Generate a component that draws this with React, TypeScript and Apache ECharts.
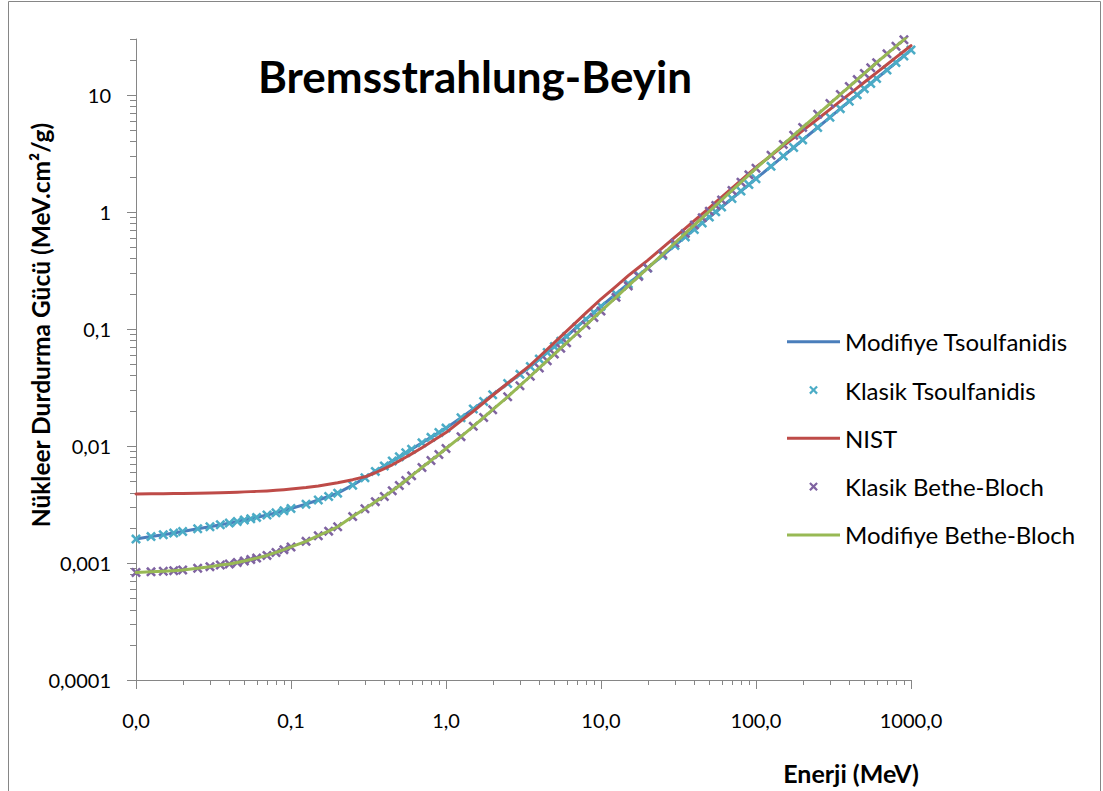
import React, { useEffect, useRef } from "react";
import * as echarts from "echarts";

// Energy grid (MeV)
const energies = [
  0.01, 0.0125, 0.015, 0.0175, 0.02, 0.025, 0.03, 0.035, 0.04, 0.045, 0.05, 0.055, 0.06, 0.07, 0.08, 0.09, 0.1,
  0.125, 0.15, 0.175, 0.2, 0.25, 0.3, 0.35, 0.4, 0.45, 0.5, 0.55, 0.6, 0.7, 0.8, 0.9, 1,
  1.25, 1.5, 1.75, 2, 2.5, 3, 3.5, 4, 4.5, 5, 5.5, 6, 7, 8, 9, 10,
  12.5, 15, 17.5, 20, 25, 30, 35, 40, 45, 50, 55, 60, 70, 80, 90, 100,
  125, 150, 175, 200, 250, 300, 350, 400, 450, 500, 550, 600, 700, 800, 900, 1000,
];

// Tsoulfanidis (modified line and classic markers)
const tsoulfanidis = [
  0.0016, 0.00168, 0.00174, 0.0018, 0.00186, 0.00196, 0.00204, 0.00212, 0.00219, 0.00226, 0.00233, 0.00239, 0.00245, 0.00257, 0.00268, 0.0028, 0.00292,
  0.00318, 0.00345, 0.0037, 0.00395, 0.00462, 0.00535, 0.00606, 0.00675, 0.00743, 0.00809, 0.00874, 0.00938, 0.01063, 0.01184, 0.01303, 0.0142,
  0.0174, 0.0207, 0.024, 0.0274, 0.0342, 0.0409, 0.0477, 0.0552, 0.0629, 0.0706, 0.0784, 0.0863, 0.104, 0.121, 0.138, 0.156,
  0.199, 0.243, 0.287, 0.332, 0.424, 0.517, 0.611, 0.707, 0.804, 0.902, 1.0, 1.1, 1.3, 1.505, 1.71, 1.92,
  2.45, 3.0, 3.55, 4.12, 5.26, 6.43, 7.62, 8.82, 10.0, 11.3, 12.5, 13.8, 16.3, 18.9, 21.5, 24.2,
];

// NIST
const nist = [
  0.00388, 0.0039, 0.00391, 0.00392, 0.00393, 0.00395, 0.00397, 0.00399, 0.00401, 0.00403, 0.00405, 0.00407, 0.00409, 0.00413, 0.00418, 0.00423, 0.00428,
  0.00441, 0.00455, 0.0047, 0.00485, 0.00515, 0.00545, 0.0059, 0.0064, 0.0069, 0.00745, 0.008, 0.00855, 0.00965, 0.0108, 0.0119, 0.013,
  0.0164, 0.0198, 0.0234, 0.0271, 0.0343, 0.0417, 0.049, 0.0578, 0.0669, 0.0762, 0.0858, 0.0956, 0.116, 0.137, 0.158, 0.18,
  0.231, 0.285, 0.335, 0.385, 0.495, 0.608, 0.724, 0.842, 0.962, 1.083, 1.209, 1.336, 1.595, 1.859, 2.129, 2.404,
  3.03, 3.66, 4.3, 4.94, 6.22, 7.52, 8.83, 10.15, 11.47, 12.8, 14.13, 15.47, 18.16, 20.87, 23.58, 26.3,
];

// Bethe-Bloch (modified line and classic markers)
const betheBloch = [
  0.00083, 0.00084, 0.00085, 0.00086, 0.00087, 0.0009, 0.00093, 0.00096, 0.00098, 0.00101, 0.00104, 0.00107, 0.0011, 0.00116, 0.00123, 0.0013, 0.00137,
  0.00153, 0.00171, 0.00187, 0.00204, 0.00249, 0.00291, 0.00334, 0.0037, 0.00414, 0.00459, 0.00507, 0.00555, 0.00655, 0.0075, 0.00846, 0.00951,
  0.012, 0.0147, 0.0175, 0.0204, 0.0263, 0.0327, 0.0394, 0.0464, 0.0535, 0.0609, 0.0684, 0.076, 0.0918, 0.108, 0.125, 0.142,
  0.186, 0.233, 0.281, 0.331, 0.434, 0.542, 0.655, 0.771, 0.89, 1.012, 1.136, 1.264, 1.525, 1.795, 2.072, 2.357,
  3.05, 3.77, 4.51, 5.27, 6.82, 8.43, 10.08, 11.77, 13.49, 15.25, 17.03, 18.84, 22.4, 26.0, 29.6, 34.06,
];

const seriesNames = [
  "Modifiye Tsoulfanidis",
  "Klasik Tsoulfanidis",
  "NIST",
  "Klasik Bethe-Bloch",
  "Modifiye Bethe-Bloch",
];

const X_MIN = 0.01;
const X_MAX = 1000;
const Y_MIN = 0.0001;
const Y_MAX = 30;

const AXIS_COLOR = "#868686";
const FONT = "Lato";

const X_PATH = "M0,1.8L1.8,0L5,3.2L8.2,0L10,1.8L6.8,5L10,8.2L8.2,10L5,6.8L1.8,10L0,8.2L3.2,5Z";
const X_MARK = "path://" + X_PATH;
const X_LEGEND = "path://M-3,-3M13,13" + X_PATH;
const LINE_LEGEND = "path://M0,0L53,0L53,3L0,3Z";

function pairs(values: number[]) {
  return energies.map((e, i) => [e, values[i]]);
}

function isPow10(v: number) {
  const l = Math.log10(v);
  return Math.abs(l - Math.round(l)) < 1e-6;
}

export default function App() {
  const ref = useRef<HTMLDivElement>(null);

  useEffect(() => {
    if (!ref.current) return;
    const chart = echarts.init(ref.current, null, { renderer: "svg" });

    const xTicks: number[][] = [];
    for (let d = -2; d <= 3; d++) {
      for (let k = 1; k <= 9; k++) {
        const v = k * Math.pow(10, d);
        if (v <= X_MAX * 1.000001) xTicks.push([v, Y_MIN, k === 1 ? 1 : 0]);
      }
    }
    const yTicks: number[][] = [];
    for (let d = -4; d <= 1; d++) {
      for (let k = 1; k <= 9; k++) {
        const v = k * Math.pow(10, d);
        if (v <= Y_MAX * 1.000001) yTicks.push([X_MIN, v, k === 1 ? 1 : 0]);
      }
    }

    const tickStyle = { stroke: AXIS_COLOR, lineWidth: 1 };

    const option: any = {
      animation: false,
      backgroundColor: "#ffffff",
      grid: { left: 136, top: 39, width: 775, height: 641 },
      xAxis: {
        type: "log",
        logBase: 10,
        min: X_MIN,
        max: X_MAX,
        axisLine: { show: true, lineStyle: { color: AXIS_COLOR, width: 1 } },
        axisTick: { show: false },
        splitLine: { show: false },
        axisLabel: {
          margin: 30,
          color: "#000",
          fontSize: 20,
          fontFamily: FONT,
          formatter: (v: number) =>
            isPow10(v) ? Math.pow(10, Math.round(Math.log10(v))).toFixed(1).replace(".", ",") : "",
        },
      },
      yAxis: {
        type: "log",
        logBase: 10,
        min: Y_MIN,
        max: Y_MAX,
        axisLine: { show: true, lineStyle: { color: AXIS_COLOR, width: 1 } },
        axisTick: { show: false },
        splitLine: { show: false },
        axisLabel: {
          margin: 25,
          color: "#000",
          fontSize: 20,
          fontFamily: FONT,
          formatter: (v: number) => {
            if (!isPow10(v)) return "";
            const r = Math.round(Math.log10(v));
            return r >= 0 ? String(Math.pow(10, r)) : "0," + "0".repeat(-r - 1) + "1";
          },
        },
      },
      legend: {
        orient: "vertical",
        left: 782,
        top: 324.7,
        itemWidth: 53,
        itemHeight: 14,
        itemGap: 24.3,
        selectedMode: false,
        textStyle: { color: "#000", fontSize: 24, fontFamily: FONT, lineHeight: 24 },
        data: [
          { name: seriesNames[0], icon: LINE_LEGEND },
          { name: seriesNames[1], icon: X_LEGEND },
          { name: seriesNames[2], icon: LINE_LEGEND },
          { name: seriesNames[3], icon: X_LEGEND },
          { name: seriesNames[4], icon: LINE_LEGEND },
        ],
      },
      graphic: [
        {
          type: "rect",
          silent: true,
          shape: { x: 8.5, y: 1.5, width: 1092, height: 820 },
          style: { fill: "none", stroke: AXIS_COLOR, lineWidth: 1 },
        },
        {
          type: "text",
          x: 475,
          y: 76,
          silent: true,
          style: {
            text: "Bremsstrahlung-Beyin",
            fontSize: 44,
            fontWeight: "bold",
            fontFamily: FONT,
            fill: "#000",
            align: "center",
            verticalAlign: "middle",
          },
        },
        {
          type: "text",
          x: 851,
          y: 773,
          silent: true,
          style: {
            text: "Enerji (MeV)",
            fontSize: 25,
            fontWeight: "bold",
            fontFamily: FONT,
            fill: "#000",
            align: "center",
            verticalAlign: "middle",
          },
        },
        {
          type: "text",
          x: 40,
          y: 325,
          rotation: Math.PI / 2,
          silent: true,
          style: {
            text: "Nükleer Durdurma Gücü (MeV.cm²/g)",
            fontSize: 24.5,
            fontWeight: "bold",
            fontFamily: FONT,
            fill: "#000",
            align: "center",
            verticalAlign: "middle",
          },
        },
      ],
      series: [
        {
          type: "custom",
          silent: true,
          clip: false,
          z: 1,
          encode: { x: 0, y: 1 },
          data: xTicks,
          renderItem: (params: any, api: any) => {
            const p = api.coord([api.value(0), Y_MIN]);
            const x = Math.round(p[0]) + 0.5;
            const len = api.value(2) === 1 ? 9 : 5;
            return { type: "line", shape: { x1: x, y1: p[1], x2: x, y2: p[1] + len }, style: tickStyle };
          },
        },
        {
          type: "custom",
          silent: true,
          clip: false,
          z: 1,
          encode: { x: 0, y: 1 },
          data: yTicks,
          renderItem: (params: any, api: any) => {
            const p = api.coord([X_MIN, api.value(1)]);
            const y = Math.round(p[1]) + 0.5;
            const len = api.value(2) === 1 ? 9 : 6;
            return { type: "line", shape: { x1: p[0], y1: y, x2: p[0] - len, y2: y }, style: tickStyle };
          },
        },
        {
          name: seriesNames[0],
          type: "line",
          data: pairs(tsoulfanidis),
          symbol: "none",
          color: "#4A7EBB",
          itemStyle: { color: "#4A7EBB" },
          lineStyle: { width: 3, color: "#4A7EBB", cap: "round", join: "round" },
          z: 2,
        },
        {
          name: seriesNames[1],
          type: "scatter",
          data: pairs(tsoulfanidis),
          symbol: X_MARK,
          symbolSize: 10,
          color: "#4BACC6",
          itemStyle: { color: "#4BACC6", opacity: 1 },
          z: 3,
        },
        {
          name: seriesNames[2],
          type: "line",
          data: pairs(nist),
          symbol: "none",
          color: "#BE4B48",
          itemStyle: { color: "#BE4B48" },
          lineStyle: { width: 3, color: "#BE4B48", cap: "round", join: "round" },
          z: 4,
        },
        {
          name: seriesNames[3],
          type: "scatter",
          data: pairs(betheBloch),
          symbol: X_MARK,
          symbolSize: 10,
          color: "#7F63A1",
          itemStyle: { color: "#7F63A1", opacity: 1 },
          z: 5,
        },
        {
          name: seriesNames[4],
          type: "line",
          data: pairs(betheBloch),
          symbol: "none",
          color: "#98B954",
          itemStyle: { color: "#98B954" },
          lineStyle: { width: 3, color: "#98B954", cap: "round", join: "round" },
          z: 6,
        },
      ],
    };

    chart.setOption(option);
    return () => chart.dispose();
  }, []);

  return (
    <div
      ref={ref}
      style={{ position: "fixed", left: 0, top: 0, width: 1103, height: 791, background: "#fff" }}
    />
  );
}
